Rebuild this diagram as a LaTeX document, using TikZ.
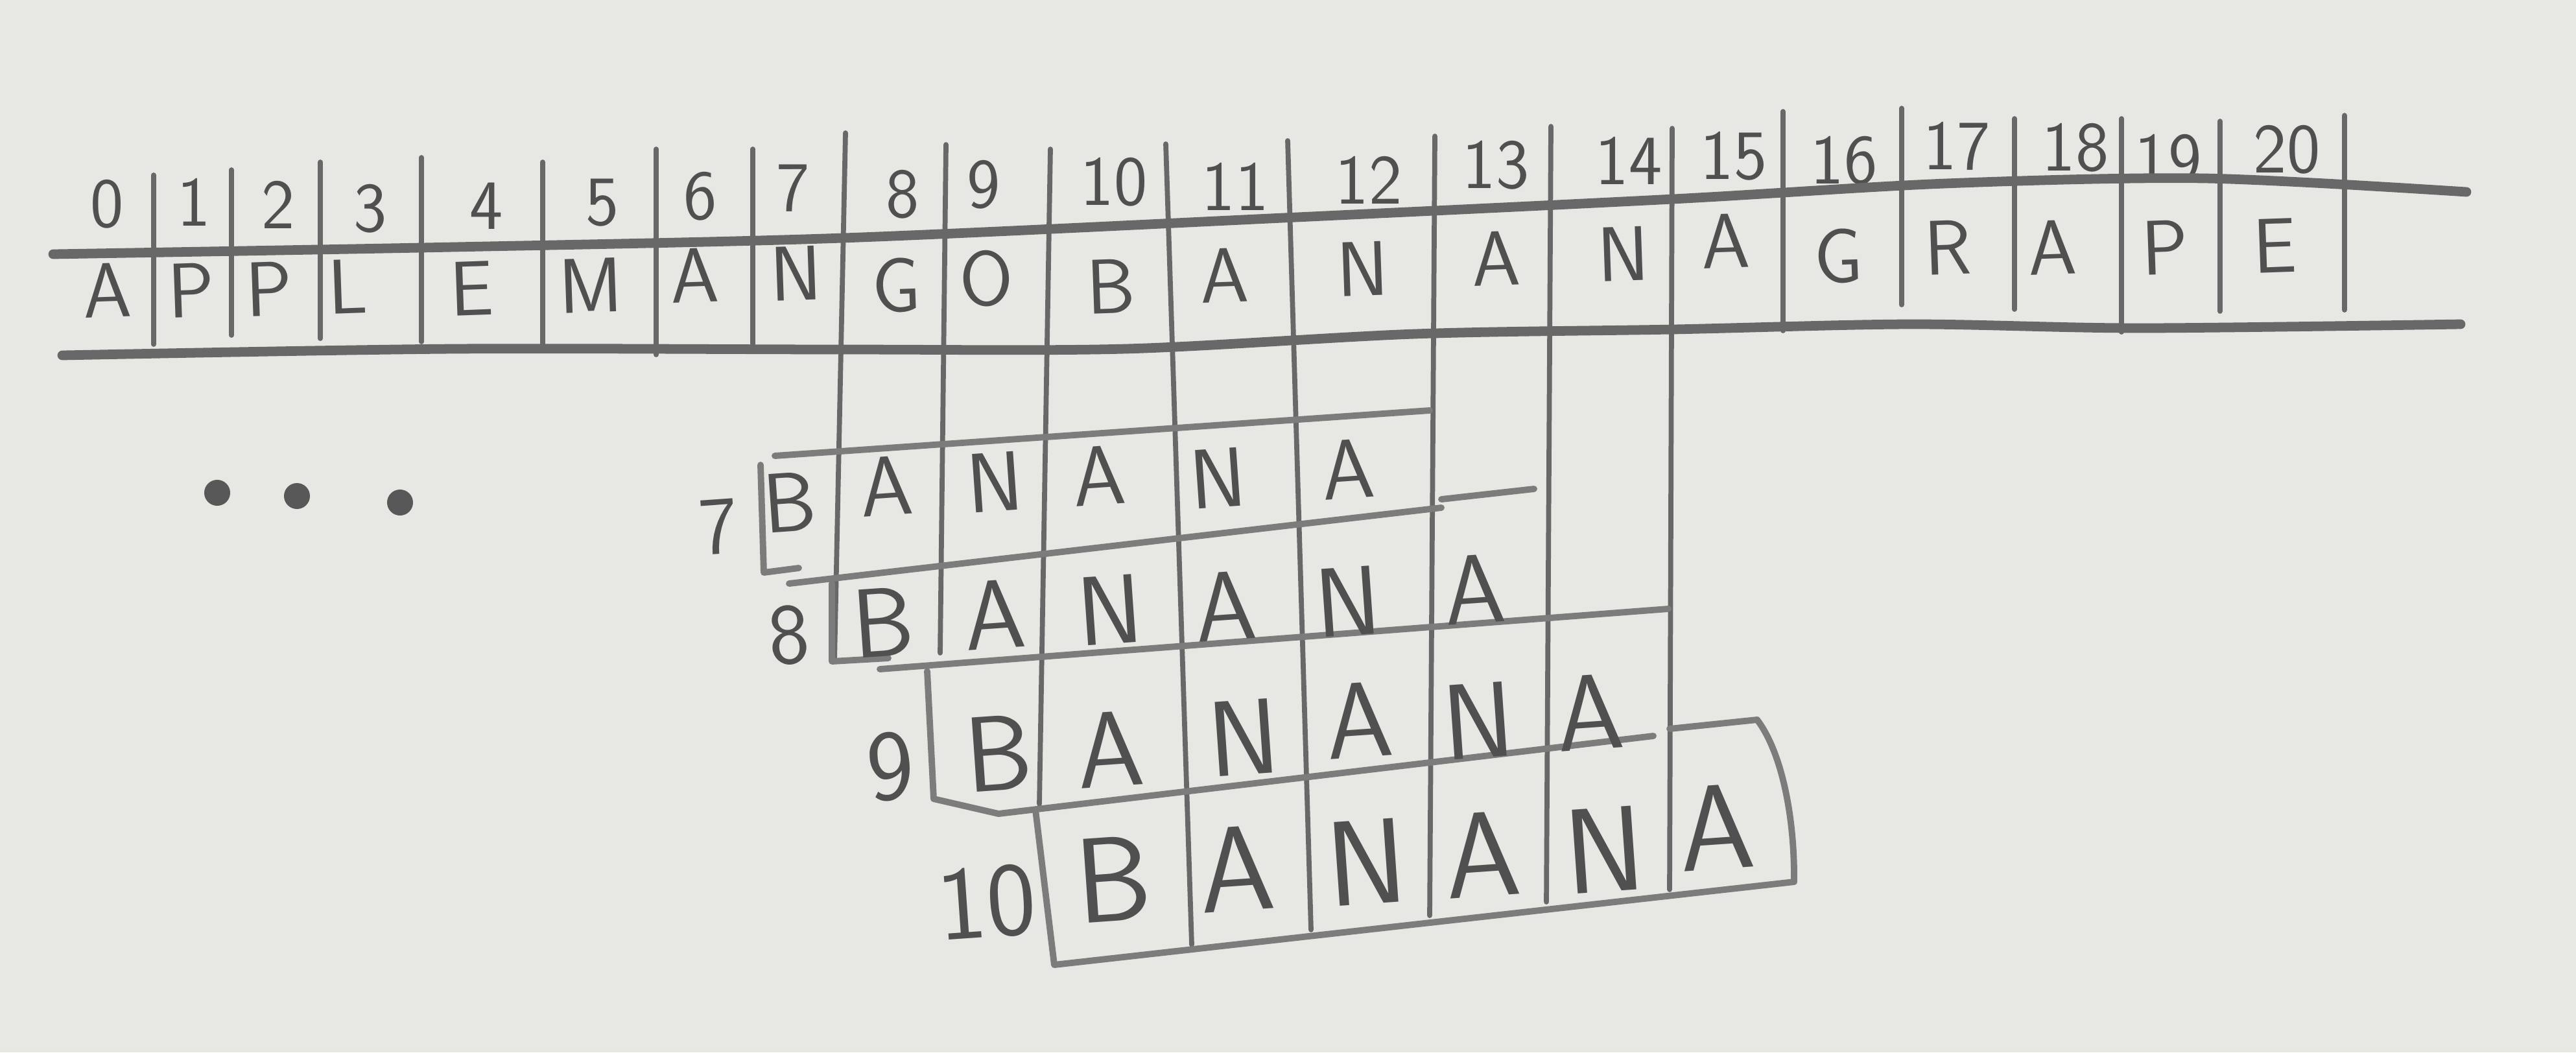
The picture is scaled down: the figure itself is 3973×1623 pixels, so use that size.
\documentclass[tikz,border=0pt]{standalone}
\usepackage{fontspec}
\usetikzlibrary{calc}
\definecolor{paper}{RGB}{231,231,228}
\definecolor{lead}{RGB}{104,104,104}
\definecolor{softlead}{RGB}{124,124,124}
\definecolor{ink}{RGB}{80,80,80}
\tikzset{
x=0.01cm, y=-0.01cm, % one unit is one pixel of the sketch, y runs down
rule/.style={draw=lead, line width=4.2pt, line cap=round, line join=round}, % the two long lines of the word row
bar/.style={draw=lead, line width=2.2pt, line cap=round}, % the cell walls of the word row
wall/.style={draw=softlead, line width=2.8pt, line cap=round, line join=round}, % the walls of the shifted pattern rows
idx/.style={text=ink, font=\sffamily\fontsize{31}{33}\selectfont, inner sep=0pt}, % the index numbers
chr/.style={text=ink, font=\sffamily\fontsize{34}{36}\selectfont, inner sep=0pt, rotate=2}, % the letters of the word row
pat/.style={text=ink, font=\sffamily\fontsize{#1}{#1}\selectfont, inner sep=0pt, rotate=4}, % the letters of a pattern row
dot/.style={circle, fill=lead!85!black, inner sep=0pt, minimum size=0.4cm},
}

\begin{document}
\begin{tikzpicture}
    \fill[paper] (0,0) rectangle (3973,1623);
    \useasboundingbox (0,0) rectangle (3973,1623);

    % indices above the word row
    \foreach \n/\x/\y in {0/165/315, 1/299/312, 2/429/316, 3/571/322, 4/750/318, 5/929/313, 6/1080/303, 7/1223/290, 8/1392/300, 9/1517/285, 10/1718/281, 11/1905/288, 12/2111/278, 13/2307/255, 14/2512/248, 15/2674/241, 16/2844/248, 17/3018/225, 18/3201/228, 19/3344/245, 20/3527/231}
        \node[idx] (n\n) at (\x,\y) {\n};

    % the word row
    \foreach \ch/\x/\y [count=\i from 0] in {A/165/448, P/295/448, P/415/446, L/536/442, E/728/445, M/911/440, A/1071/425, N/1228/422, G/1383/440, O/1521/430, B/1713/442, A/1888/425, N/2102/415, A/2307/399, N/2504/392, A/2661/372, G/2835/395, R/3004/382, A/3165/382, P/3339/382, E/3509/379}
        \node[chr] (w\i) at (\x,\y) {\ch};

    \draw[rule] plot[smooth] coordinates {(82,392) (700,381) (1300,367) (2000,335) (2580,307) (3000,283) (3400,275) (3804,296)};
    \draw[rule] plot[smooth] coordinates {(96,548) (700,538) (1300,539) (1736,538) (2182,515) (2580,508) (2946,500) (3300,506) (3795,500)};

    % short walls
    \foreach \x/\t/\b in {237/270/531, 357/262/517, 494/250/522, 650/243/527, 837/250/538, 1012/230/547, 1161/230/538, 2750/172/510, 2933/167/470, 3107/183/477, 3272/183/512, 3424/187/480, 3616/178/478}
        \draw[bar] (\x,\t) -- (\x,\b);

    % long walls, running down through the pattern rows
    \foreach \x/\t/\u/\b in {1304/205/1287/1020, 1459/223/1450/1007, 1620/230/1603/1240, 1798/222/1838/1457, 1986/217/2022/1434, 2213/210/2205/1412, 2392/195/2385/1391, 2579/198/2575/1372}
        \draw[bar] (\x,\t) -- (\u,\b);

    \node[dot] (d1) at (335,760) {};
    \node[dot] (d2) at (458,765) {};
    \node[dot] (d3) at (617,775) {};

    % pattern at 7
    \node[pat=36] (s7) at (1108,812) {7};
    \draw[wall] (1195,703) -- (2205,633);
    \draw[wall] (1173,717) -- (1178,883) -- (1232,876);
    \draw[wall] (1217,900) -- (2223,783);
    \foreach \ch/\x/\y [count=\i] in {B/1218/775, A/1367/750, N/1534/743, A/1695/734, N/1878/737, A/2079/724}
        \node[pat=37] (p7\i) at (\x,\y) {\ch};

    % pattern at 8
    \node[pat=38] (s8) at (1217,980) {8};
    \draw[wall] (2223,770) -- (2366,754);
    \draw[wall] (1283,900) -- (1283,1020) -- (1370,1015);
    \draw[wall] (1357,1032) -- (2573,939);
    \foreach \ch/\x/\y [count=\i] in {B/1362/960, A/1534/948, N/1712/941, A/1890/935, N/2079/928, A/2274/909}
        \node[pat=43] (p8\i) at (\x,\y) {\ch};

    % pattern at 9
    \node[pat=44] (s9) at (1373,1182) {9};
    \draw[wall] (1430,1035) -- (1440,1232) -- (1540,1255);
    \draw[wall] (1540,1255) -- (2550,1135);
    \foreach \ch/\x/\y [count=\i] in {B/1540/1162, A/1712/1156, N/1918/1137, A/2096/1111, N/2280/1111, A/2452/1099}
        \node[pat=47] (p9\i) at (\x,\y) {\ch};

    % pattern at 10
    \node[pat=46] (s10) at (1522,1392) {10};
    \draw[wall] (2575,1124) -- (2710,1110) .. controls (2748,1160) and (2768,1260) .. (2767,1360);
    \draw[wall] (1597,1249) -- (1626,1488) -- (2767,1360);
    \foreach \ch/\x/\y [count=\i] in {B/1717/1356, A/1907/1340, N/2108/1330, A/2286/1318, N/2475/1311, A/2647/1276}
        \node[pat=53] (p10\i) at (\x,\y) {\ch};
\end{tikzpicture}
\end{document}
